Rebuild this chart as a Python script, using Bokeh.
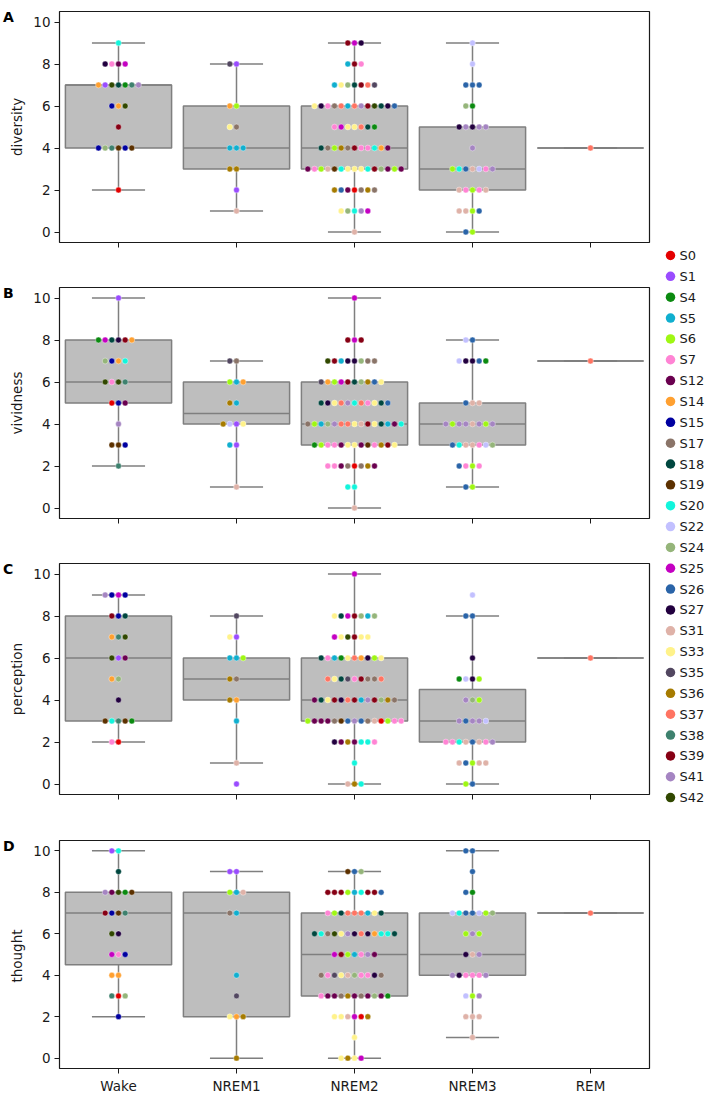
import numpy as np
from bokeh.plotting import figure
from bokeh.models import Range1d, FixedTicker, ColumnDataSource
from bokeh.layouts import row, column
from bokeh.embed import file_html
from bokeh.resources import INLINE
from bokeh.core.properties import value

# ---------------- data ----------------
SUBJECTS = ["S0", "S1", "S4", "S5", "S6", "S7", "S12", "S14", "S15", "S17", "S18", "S19", "S20",
            "S22", "S24", "S25", "S26", "S27", "S31", "S33", "S35", "S36", "S37", "S38", "S39",
            "S41", "S42"]
SUBJECT_COLORS = ["#e40000", "#9a4cff", "#0b8a10", "#10afcf", "#9ff713", "#ff84d4", "#6a004f",
                  "#ffa030", "#0000a0", "#8a7468", "#00473f", "#5c3100", "#12f5dc", "#c2c0ff",
                  "#95b57a", "#c400c2", "#2a64a8", "#22003f", "#dfb2a8", "#fff28a", "#524760",
                  "#a67b00", "#ff7462", "#3e816e", "#860014", "#a585c2", "#314800"]
STAGES = ["Wake", "NREM1", "NREM2", "NREM3", "REM"]
MEASURES = ["diversity", "vividness", "perception", "thought"]
PANEL_LETTERS = ["A", "B", "C", "D"]

# rating -> subjects (left to right in each swarm row)
diversity_wake = {9: ["S20"], 8: ["S27", "S7", "S12", "S25"],
                  7: ["S14", "S1", "S42", "S18", "S4", "S38", "S41"], 6: ["S15", "S14", "S42"],
                  5: ["S39"], 4: ["S15", "S24", "S38", "S19", "S15", "S19"], 2: ["S0"]}
diversity_nrem1 = {8: ["S35", "S1"], 6: ["S14", "S6"], 5: ["S33", "S17"], 4: ["S5", "S5", "S5"],
                   3: ["S36", "S36"], 2: ["S1"], 1: ["S31"]}
diversity_nrem2 = {9: ["S39", "S25", "S27"], 8: ["S5", "S39", "S7"],
                   7: ["S5", "S33", "S24", "S18", "S39", "S37", "S35"],
                   6: ["S33", "S27", "S7", "S17", "S37", "S5", "S37", "S41", "S39", "S42", "S18", "S27", "S26"],
                   5: ["S7", "S25", "S33", "S33", "S37", "S18", "S4"],
                   4: ["S18", "S17", "S6", "S36", "S17", "S39", "S7", "S7", "S20", "S14", "S12"],
                   3: ["S12", "S7", "S6", "S31", "S19", "S20", "S33", "S33", "S33", "S20", "S39", "S24", "S12", "S6", "S12"],
                   2: ["S36", "S26", "S12", "S0", "S17", "S36", "S17"],
                   1: ["S33", "S24", "S20", "S41", "S25"], 0: ["S31"]}
diversity_nrem3 = {9: ["S22"], 8: ["S22"], 7: ["S26", "S26", "S26"], 6: ["S24", "S4"],
                   5: ["S27", "S41", "S27", "S41", "S41"], 4: ["S41"],
                   3: ["S6", "S20", "S26", "S31", "S22", "S7", "S41"],
                   2: ["S31", "S7", "S6", "S7", "S31"], 1: ["S31", "S31", "S6", "S26"], 0: ["S26", "S6"]}
diversity_rem = {4: ["S37"]}

vividness_wake = {10: ["S1"], 8: ["S4", "S25", "S18", "S27", "S39", "S14"],
                  7: ["S24", "S15", "S14", "S20"], 6: ["S42", "S7", "S42", "S38"],
                  5: ["S0", "S15", "S12"], 4: ["S41"], 3: ["S19", "S19", "S15"], 2: ["S38"]}
vividness_nrem1 = {7: ["S35", "S17"], 6: ["S6", "S5", "S14"], 5: ["S36", "S5"],
                   4: ["S36", "S22", "S1", "S33"], 3: ["S5", "S1"], 1: ["S31"]}
vividness_nrem2 = {10: ["S25"], 8: ["S39", "S25", "S39"],
                   7: ["S42", "S39", "S5", "S27", "S27", "S24", "S17", "S17"],
                   6: ["S35", "S14", "S6", "S25", "S39", "S18", "S24", "S36", "S26", "S33"],
                   5: ["S18", "S27", "S33", "S37", "S41", "S20", "S37", "S7", "S33", "S18", "S26"],
                   4: ["S17", "S6", "S5", "S24", "S41", "S37", "S37", "S33", "S31", "S39", "S33", "S18", "S5", "S12", "S20"],
                   3: ["S4", "S6", "S7", "S7", "S12", "S33", "S33", "S12", "S19", "S7", "S36", "S39", "S33"],
                   2: ["S7", "S7", "S12", "S17", "S0", "S17", "S36", "S12"],
                   1: ["S20", "S20"], 0: ["S31"]}
vividness_nrem3 = {8: ["S22", "S26"], 7: ["S22", "S27", "S27", "S26", "S4"], 5: ["S26", "S31", "S31"],
                   4: ["S41", "S6", "S41", "S41", "S31", "S41", "S6", "S41"],
                   3: ["S26", "S20", "S31", "S31", "S7", "S22", "S24"],
                   2: ["S26", "S7", "S6", "S7"], 1: ["S26", "S6"]}
vividness_rem = {7: ["S37"]}

perception_wake = {9: ["S41", "S15", "S25", "S15"], 8: ["S39", "S15", "S18"], 7: ["S14", "S38", "S42"],
                   6: ["S42", "S1", "S12"], 5: ["S14", "S24"], 4: ["S27"],
                   3: ["S19", "S20", "S38", "S19", "S4"], 2: ["S7", "S0"]}
perception_nrem1 = {8: ["S35"], 7: ["S33", "S1"], 6: ["S5", "S5", "S6"], 5: ["S36", "S17"],
                    4: ["S36", "S14"], 3: ["S5"], 1: ["S31"], 0: ["S1"]}
perception_nrem2 = {10: ["S25"], 8: ["S33", "S18", "S25", "S39", "S24", "S5", "S24"],
                    7: ["S25", "S33", "S42", "S39", "S33", "S33"],
                    6: ["S18", "S7", "S5", "S4", "S33", "S37", "S14", "S27", "S6", "S33"],
                    5: ["S37", "S33", "S18", "S35", "S7", "S39", "S17", "S17", "S37"],
                    4: ["S12", "S18", "S33", "S39", "S27", "S37", "S39", "S5", "S41", "S39", "S24", "S36", "S17"],
                    3: ["S6", "S12", "S12", "S12", "S17", "S19", "S26", "S41", "S26", "S17", "S31", "S0", "S6", "S7", "S7"],
                    2: ["S27", "S12", "S36", "S12", "S20", "S20", "S7"],
                    1: ["S20"], 0: ["S31", "S36", "S20"]}
perception_nrem3 = {9: ["S22"], 8: ["S26", "S26"], 6: ["S27"], 5: ["S4", "S22", "S27", "S6"],
                    4: ["S41", "S24", "S6"], 3: ["S41", "S26", "S41", "S41", "S22"],
                    2: ["S7", "S7", "S20", "S31", "S26", "S31", "S7", "S41"],
                    1: ["S31", "S26", "S6", "S31", "S31"], 0: ["S6", "S26"]}
perception_rem = {6: ["S37"]}

thought_wake = {10: ["S1", "S20"], 9: ["S18"], 8: ["S41", "S12", "S42", "S4", "S19"],
                7: ["S39", "S15", "S19", "S38"], 6: ["S42", "S27"], 5: ["S25", "S7", "S15"],
                4: ["S14", "S14"], 3: ["S38", "S0", "S24"], 2: ["S15"]}
thought_nrem1 = {9: ["S1", "S1"], 8: ["S6", "S5", "S31"], 7: ["S17", "S5"], 4: ["S5"], 3: ["S35"],
                 2: ["S33", "S14", "S36"], 0: ["S36"]}
thought_nrem2 = {9: ["S19", "S26", "S24"],
                 8: ["S39", "S39", "S39", "S6", "S5", "S20", "S39", "S39", "S26"],
                 7: ["S7", "S6", "S18", "S37", "S37", "S37", "S5", "S33", "S18"],
                 6: ["S18", "S20", "S17", "S42", "S33", "S41", "S27", "S37", "S27", "S14", "S20", "S20", "S18"],
                 5: ["S25", "S39", "S6", "S5", "S7", "S41", "S12"],
                 4: ["S17", "S7", "S35", "S33", "S31", "S24", "S7", "S7", "S27", "S17"],
                 3: ["S7", "S12", "S12", "S17", "S36", "S12", "S17", "S12", "S24", "S12", "S4"],
                 2: ["S33", "S33", "S31", "S25", "S0", "S36"],
                 1: ["S33"], 0: ["S33", "S36", "S33", "S25"]}
thought_nrem3 = {10: ["S26", "S26"], 9: ["S26"], 8: ["S26", "S4"],
                 7: ["S22", "S20", "S26", "S26", "S22", "S6", "S24"], 6: ["S6", "S41", "S6"],
                 5: ["S27", "S31", "S41"], 4: ["S41", "S27", "S7", "S7", "S7", "S41"],
                 3: ["S22", "S6", "S41"], 2: ["S31", "S31", "S31"], 1: ["S31"]}
thought_rem = {7: ["S37"]}

DATA = {
    "diversity": [diversity_wake, diversity_nrem1, diversity_nrem2, diversity_nrem3, diversity_rem],
    "vividness": [vividness_wake, vividness_nrem1, vividness_nrem2, vividness_nrem3, vividness_rem],
    "perception": [perception_wake, perception_nrem1, perception_nrem2, perception_nrem3, perception_rem],
    "thought": [thought_wake, thought_nrem1, thought_nrem2, thought_nrem3, thought_rem],
}

# ---------------- style ----------------
FONT = "DejaVu Sans"
BOX_FILL = "#bebebe"
BOX_LINE = "#7f7f7f"
BOX_W = 0.9
CAP_W = 0.45
FRAME_W = 590
FRAME_H = 231
GUTTER_W = 26                      # strip at far left: panel letters + y-axis titles
BORDER_LEFT = 59 - GUTTER_W
PANEL_W = 660 - GUTTER_W
SWARM_STEP = 6.67 / (FRAME_W / len(STAGES))  # spacing of swarm dots in data units
COLOR_OF = dict(zip(SUBJECTS, SUBJECT_COLORS))
# (top border, bottom border) of each panel figure
BORDERS = [(11, 34), (11, 34), (11, 35), (11, 25)]


def box_stats(vals):
    v = np.asarray(vals, dtype=float)
    q1, med, q3 = np.percentile(v, [25, 50, 75])
    iqr = q3 - q1
    lo = v[v >= q1 - 1.5 * iqr].min()
    hi = v[v <= q3 + 1.5 * iqr].max()
    return q1, med, q3, lo, hi


def make_panel(measure, idx):
    top, bottom = BORDERS[idx]
    last = idx == len(MEASURES) - 1
    p = figure(width=PANEL_W, height=top + FRAME_H + bottom,
               x_range=Range1d(-0.5, len(STAGES) - 0.5), y_range=Range1d(-0.5, 10.5),
               output_backend="svg", toolbar_location=None,
               min_border_left=BORDER_LEFT, min_border_right=PANEL_W - BORDER_LEFT - FRAME_W,
               min_border_top=top, min_border_bottom=bottom)
    p.grid.visible = False
    p.outline_line_color = "#1a1a1a"
    p.outline_line_width = 1.2
    p.background_fill_color = "white"
    p.border_fill_color = "white"

    for ax in (p.xaxis[0], p.yaxis[0]):
        ax.axis_line_color = None
        ax.major_tick_out = 5
        ax.major_tick_in = 0
        ax.major_tick_line_color = "#1a1a1a"
        ax.major_tick_line_width = 1
        ax.minor_tick_line_color = None
        ax.major_label_text_font = FONT
        ax.major_label_text_font_size = "13.5px"
        ax.major_label_text_color = "#1a1a1a"
        ax.major_label_standoff = 4

    p.xaxis.ticker = FixedTicker(ticks=list(range(len(STAGES))))
    p.xaxis.major_label_overrides = {i: s for i, s in enumerate(STAGES)}
    if not last:
        p.xaxis.major_label_text_color = None
    p.yaxis.ticker = FixedTicker(ticks=[0, 2, 4, 6, 8, 10])

    groups = DATA[measure]
    bx, q1s, q3s, meds, los, his = [], [], [], [], [], []
    px, py, pc, ps = [], [], [], []
    for i, grp in enumerate(groups):
        vals = [v for v, subs in grp.items() for _ in subs]
        q1, med, q3, lo, hi = box_stats(vals)
        bx.append(i); q1s.append(q1); q3s.append(q3); meds.append(med); los.append(lo); his.append(hi)
        for v, subs in grp.items():
            n = len(subs)
            for k, s in enumerate(subs):
                px.append(i + (k - n // 2) * SWARM_STEP)
                py.append(v)
                pc.append(COLOR_OF[s])
                ps.append(s)

    bx = np.array(bx, dtype=float)
    box_src = ColumnDataSource(dict(left=bx - BOX_W / 2, right=bx + BOX_W / 2, q1=q1s, q3=q3s,
                                    med=meds, lo=los, hi=his, x=bx,
                                    cl=bx - CAP_W / 2, cr=bx + CAP_W / 2))
    p.segment(x0="x", y0="q3", x1="x", y1="hi", source=box_src, line_color=BOX_LINE, line_width=1.5)
    p.segment(x0="x", y0="q1", x1="x", y1="lo", source=box_src, line_color=BOX_LINE, line_width=1.5)
    p.segment(x0="cl", y0="hi", x1="cr", y1="hi", source=box_src, line_color=BOX_LINE, line_width=1.5)
    p.segment(x0="cl", y0="lo", x1="cr", y1="lo", source=box_src, line_color=BOX_LINE, line_width=1.5)
    p.quad(left="left", right="right", bottom="q1", top="q3", source=box_src,
           fill_color=BOX_FILL, line_color=BOX_LINE, line_width=1.5)
    p.segment(x0="left", y0="med", x1="right", y1="med", source=box_src, line_color=BOX_LINE, line_width=1.5)

    pt_src = ColumnDataSource(dict(x=px, y=py, color=pc, subject=ps))
    p.scatter(x="x", y="y", source=pt_src, size=5.8, fill_color="color",
              line_color="white", line_width=0.4)
    return p


panels = [make_panel(m, idx) for idx, m in enumerate(MEASURES)]
heights = [pp.height for pp in panels]
total_h = sum(heights)
fig_tops = np.concatenate([[0], np.cumsum(heights)[:-1]])
frame_tops = fig_tops + np.array([b[0] for b in BORDERS])


def blank_strip(width, height):
    f = figure(width=width, height=height, x_range=Range1d(0, width), y_range=Range1d(height, 0),
               output_backend="svg", toolbar_location=None, x_axis_location=None, y_axis_location=None,
               min_border_left=0, min_border_right=0, min_border_top=0, min_border_bottom=0)
    f.grid.visible = False
    f.outline_line_color = None
    return f


# ---------------- left strip: panel letters and y-axis titles ----------------
gut = blank_strip(GUTTER_W, total_h)
n_p = len(PANEL_LETTERS)
let_src = ColumnDataSource(dict(x=np.full(n_p, 2.5), y=frame_tops + 5.0, text=PANEL_LETTERS))
gut.text(x="x", y="y", text="text", source=let_src, text_font=value(FONT), text_font_size="14px",
         text_font_style="bold", text_color="black", text_baseline="alphabetic", text_align="left")
ttl_src = ColumnDataSource(dict(x=np.full(n_p, 16.0), y=frame_tops + FRAME_H / 2, text=MEASURES))
gut.text(x="x", y="y", text="text", source=ttl_src, angle=np.pi / 2, text_font=value(FONT),
         text_font_size="13.5px", text_color="#1a1a1a", text_baseline="middle", text_align="center")

# ---------------- right strip: legend ----------------
LEG_W = 712 - GUTTER_W - PANEL_W
leg = blank_strip(LEG_W, total_h)
leg_idx = np.arange(len(SUBJECTS))
leg_src = ColumnDataSource(dict(x=np.full(len(SUBJECTS), 10.0), tx=np.full(len(SUBJECTS), 19.0),
                                y=255 + leg_idx * 20.85, color=SUBJECT_COLORS, label=SUBJECTS))
leg.scatter(x="x", y="y", source=leg_src, size=9.5, fill_color="color", line_color=None)
leg.text(x="tx", y="y", text="label", source=leg_src, text_font=value(FONT), text_font_size="13px",
         text_color="#1a1a1a", text_baseline="middle", text_align="left")

layout = row(gut, column(*panels), leg)
open("out.html", "w").write(file_html(layout, INLINE))
